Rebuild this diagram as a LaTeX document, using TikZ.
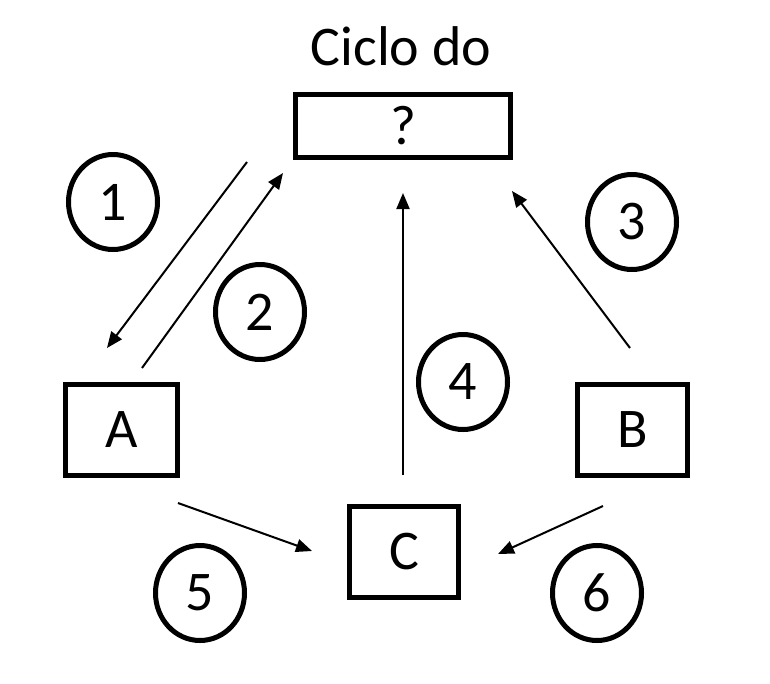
\documentclass[tikz,border=0pt]{standalone}
\usepackage{fontspec}
\setmainfont{Carlito}
\usetikzlibrary{arrows.meta,shapes.geometric}
\begin{document}
\begin{tikzpicture}[x=1pt,y=-1pt,
  lbl/.style={font=\fontsize{56}{60}\selectfont},
  box/.style={draw,line width=5pt,inner sep=0pt,lbl},
  num/.style={draw,ellipse,line width=5pt,inner sep=0pt,minimum width=89pt,minimum height=95pt,lbl},
  arr/.style={line width=2pt,-{Triangle[length=16pt,width=13pt]}},
  ln/.style={line width=2pt}]
\useasboundingbox[fill=white] (0,0) rectangle (770,683);
\node[lbl,anchor=base] (title) at (401,65) {Ciclo do};
\node[box,minimum width=215pt,minimum height=63pt] (Q) at (403,126) {?};
\node[box,minimum width=112pt,minimum height=91pt] (A) at (121.5,430) {A};
\node[box,minimum width=110pt,minimum height=91pt] (B) at (632.5,430) {B};
\node[box,minimum width=109pt,minimum height=91pt] (C) at (404,552) {C};
\node[num] (n1) at (113,202) {1};
\node[num] (n2) at (260,312) {2};
\node[num] (n3) at (632,222) {3};
\node[num] (n4) at (463,382) {4};
\node[num] (n5) at (200,593) {5};
\node[num] (n6) at (597,593) {6};
% free ends
\coordinate (a1s) at (247,162);
\coordinate (a1e) at (107,348);
\coordinate (a2s) at (142,368);
\coordinate (a2e) at (283,173);
\coordinate (a3s) at (630,348);
\coordinate (a3e) at (512,191);
\coordinate (a4s) at (403,475);
\coordinate (a4e) at (403,193);
\coordinate (a5s) at (178,503);
\coordinate (a5e) at (312,551);
\coordinate (a6s) at (603,506);
\coordinate (a6e) at (498,554);
\draw[arr] (a1s) -- (a1e);
\draw[arr] (a2s) -- (a2e);
\draw[arr] (a3s) -- (a3e);
\draw[arr] (a4s) -- (a4e);
\draw[arr] (a5s) -- (a5e);
\draw[arr] (a6s) -- (a6e);
\end{tikzpicture}
\end{document}
